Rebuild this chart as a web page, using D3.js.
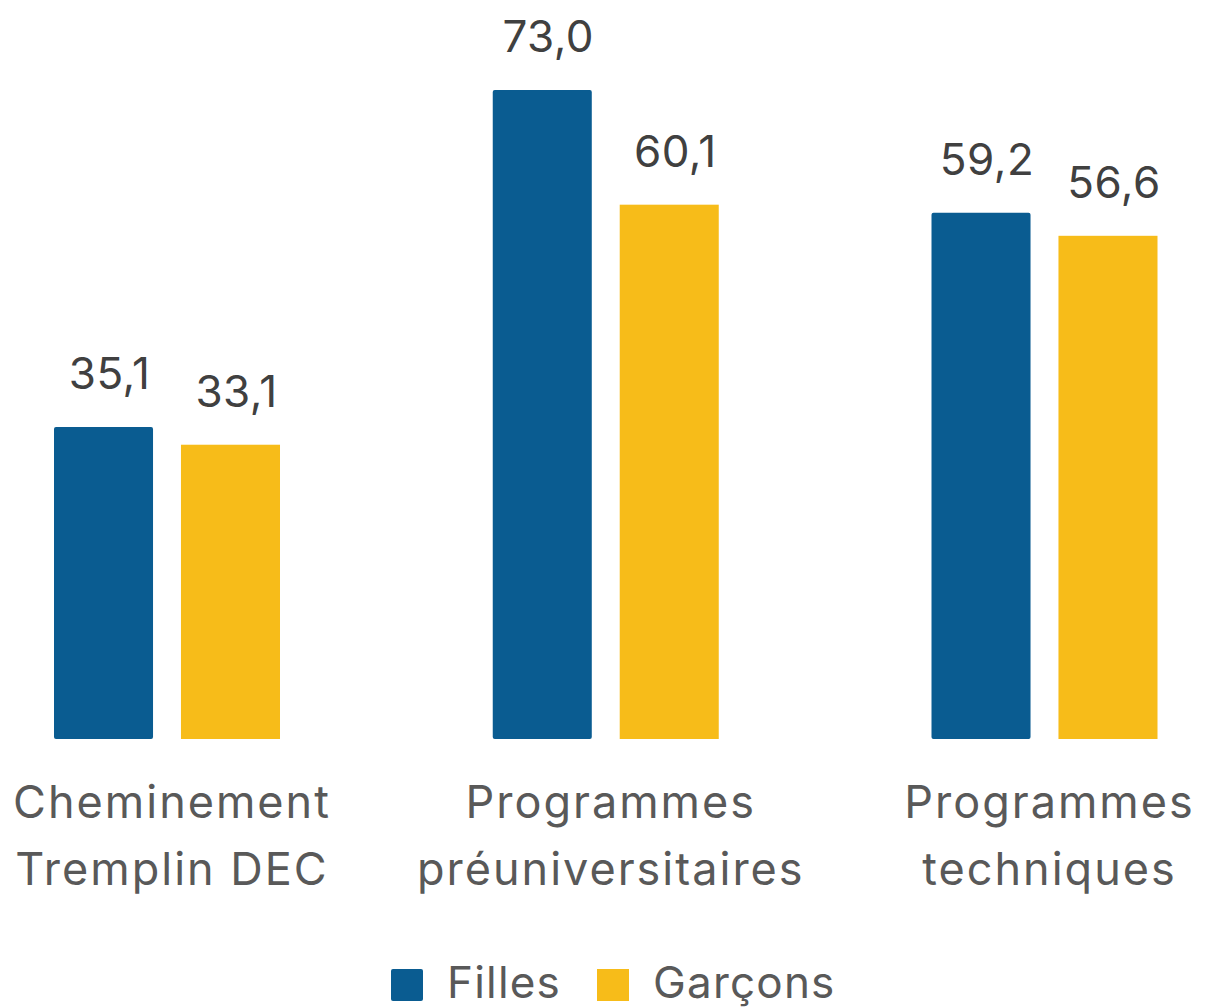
<!DOCTYPE html>
<html>
<head>
<meta charset="utf-8">
<script src="https://cdn.jsdelivr.net/npm/d3@7"></script>
<style>
  html, body { margin: 0; padding: 0; background: #fff; }
  svg { display: block; font-family: "Inter", "Noto Sans", sans-serif; }
</style>
</head>
<body>
<svg id="chart" width="1210" height="1008"></svg>
<script>
const categories = [["Cheminement", "Tremplin DEC"], ["Programmes", "préuniversitaires"], ["Programmes", "techniques"]];
const seriesNames = ["Filles", "Garçons"];
const filles = [35.1, 73.0, 59.2];
const garcons = [33.1, 60.1, 56.6];
const colors = ["#0a5c91", "#f7bc19"];

const svg = d3.select("#chart");
const baseline = 739;
const y = d3.scaleLinear().domain([0, 73]).range([baseline, 90]);
const x0 = d3.scalePoint().domain(d3.range(categories.length)).range([167, 1044.5]);
const x1 = d3.scaleBand().domain(seriesNames).range([-113, 113]).paddingInner(0.22);

const fmt = v => d3.format(".1f")(v).replace(".", ",");
const values = [filles, garcons];

const groups = svg.selectAll("g.grp").data(categories).join("g")
  .attr("class", "grp")
  .attr("transform", (d, i) => `translate(${x0(i)},0)`);

seriesNames.forEach((s, si) => {
  groups.append("rect")
    .attr("x", x1(s))
    .attr("width", x1.bandwidth())
    .attr("y", (d, i) => y(values[si][i]))
    .attr("height", (d, i) => baseline - y(values[si][i]))
    .attr("rx", si === 0 ? 2 : 0)
    .attr("fill", colors[si]);
  groups.append("text")
    .attr("x", x1(s) + x1.bandwidth() / 2 + 6)
    .attr("y", (d, i) => y(values[si][i]) - 38)
    .attr("text-anchor", "middle")
    .attr("font-size", 44)
    .attr("letter-spacing", 0.5)
    .attr("fill", "#404040")
    .text((d, i) => fmt(values[si][i]));
});

groups.each(function(d) {
  const t = d3.select(this).append("text")
    .attr("text-anchor", "middle")
    .attr("font-size", 45)
    .attr("letter-spacing", 2)
    .attr("fill", "#595959");
  d.forEach((line, li) => {
    t.append("tspan").attr("x", 5).attr("y", 818 + li * 67).text(line);
  });
});

const legend = svg.append("g");
const legendX = [391, 597];
seriesNames.forEach((s, si) => {
  legend.append("rect").attr("x", legendX[si]).attr("y", 969).attr("width", 32).attr("height", 32)
    .attr("rx", si === 0 ? 2 : 0).attr("fill", colors[si]);
  legend.append("text").attr("x", legendX[si] + 56).attr("y", 998)
    .attr("font-size", 44).attr("letter-spacing", 1.2).attr("fill", "#595959").text(s);
});
</script>
</body>
</html>
